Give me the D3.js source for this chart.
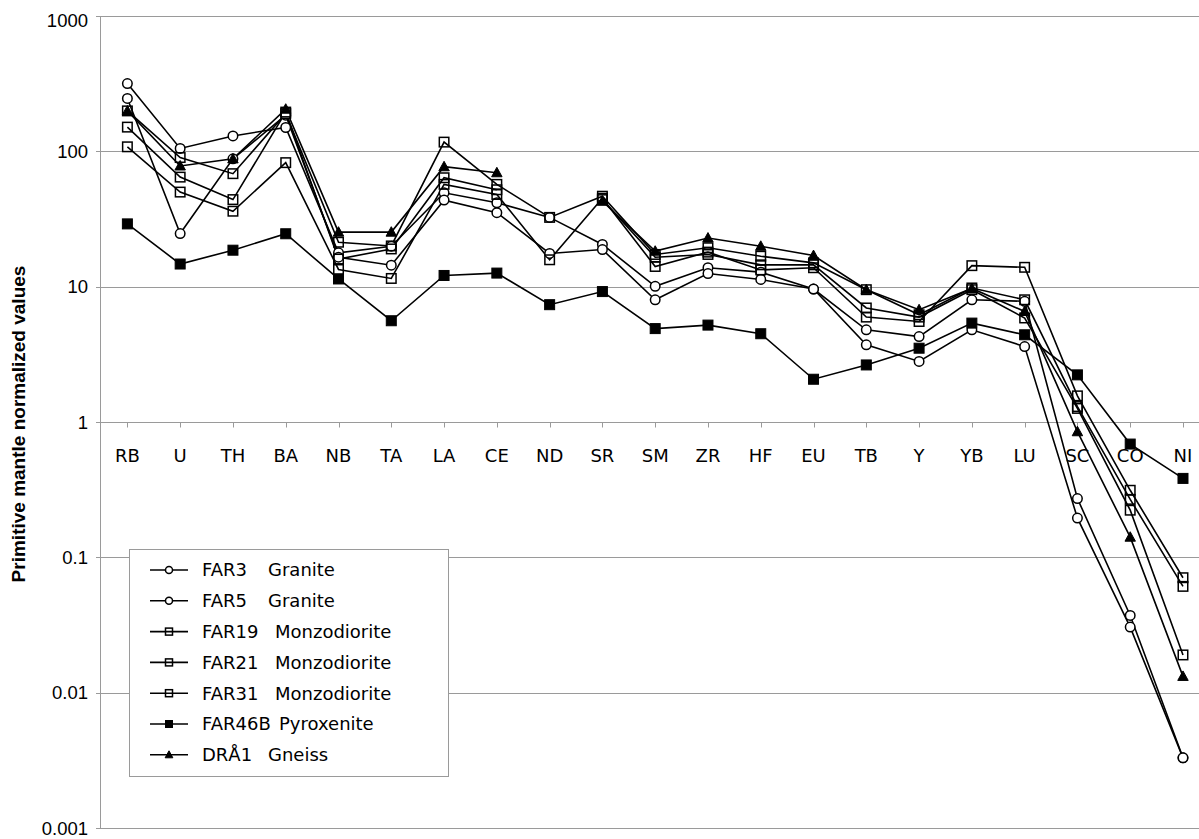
<!DOCTYPE html>
<html>
<head>
<meta charset="utf-8">
<script src="https://cdn.jsdelivr.net/npm/d3@7"></script>
<style>
  html, body { margin: 0; padding: 0; background: #fff; }
  svg { display: block; }
</style>
</head>
<body>
<svg id="chart" width="1199" height="839"></svg>
<script>
// ---------- data ----------
const categories = ["RB","U","TH","BA","NB","TA","LA","CE","ND","SR","SM","ZR","HF","EU","TB","Y","YB","LU","SC","CO","NI"];

const far3   = [317,105,130,150,17.8,19.9,49.4,41.7,32.5,20.5,10.05,13.8,12.8,9.6,4.8,4.28,8.0,7.8,0.272,0.0372,0.0033];
const far5   = [246,24.7,88,185,16.5,14.4,43.6,35.2,17.6,18.8,8.0,12.5,11.3,9.6,3.72,2.8,4.8,3.61,0.195,0.0305,0.0033];
const far19  = [199,90,68.4,190,21.3,20.0,117,57,32.5,46.6,17.3,19.4,16.8,15.0,9.5,6.2,9.78,8.0,1.30,0.268,0.061];
const far21  = [151,64.5,44,195,16.0,19.0,63.8,52,null,44,16.5,17.3,14.5,14.5,6.96,5.96,9.5,5.87,1.26,0.223,0.019];
const far31  = [108,50,36.1,82.5,13.4,11.5,57,48,15.8,45,14.1,18.0,13.3,13.8,5.96,5.53,14.3,13.9,1.56,0.313,0.0707];
const far46b = [29.1,14.7,18.6,24.6,11.4,5.6,12.1,12.6,7.36,9.2,4.9,5.2,4.49,2.07,2.64,3.51,5.38,4.41,2.23,0.687,0.383];
const dra1   = [199,78,88,205,25.3,25.3,77,69.5,null,42.8,18.3,22.9,19.9,17.0,9.5,6.76,9.7,6.56,0.848,0.141,0.0132];

const seriesCodes = ["FAR3","FAR5","FAR19","FAR21","FAR31","FAR46B","DRÅ1"];
const seriesRocks = ["Granite","Granite","Monzodiorite","Monzodiorite","Monzodiorite","Pyroxenite","Gneiss"];
const seriesMarkers = ["circle","circle","square","square","square","filledSquare","triangle"];
const seriesValues = [far3, far5, far19, far21, far31, far46b, dra1];

const yTicks = [1000,100,10,1,0.1,0.01,0.001];
const yTickLabels = ["1000","100","10","1","0.1","0.01","0.001"];
const yTitle = "Primitive mantle normalized values";

// ---------- layout ----------
const svg = d3.select("#chart");
const W = 1199;
const left = 101, step = 52.78;
const x = d3.scaleBand().domain(categories).range([left, left + categories.length * step]);
const cx = c => x(c) + x.bandwidth() / 2;
const y = d3.scaleLog().domain([0.001, 1000]).range([828, 16]);
const gridColor = "#9a9a9a";

// gridlines
svg.append("g").selectAll("line").data(yTicks).join("line")
  .attr("x1", left - 5).attr("x2", W)
  .attr("y1", d => Math.round(y(d)) + 0.5).attr("y2", d => Math.round(y(d)) + 0.5)
  .attr("stroke", gridColor).attr("stroke-width", 1);

// y axis line
svg.append("line").attr("x1", left - 0.5).attr("x2", left - 0.5)
  .attr("y1", Math.round(y(1000))).attr("y2", Math.round(y(0.001)) + 1)
  .attr("stroke", gridColor);

// y tick labels
svg.append("g").selectAll("text").data(yTicks).join("text")
  .attr("x", 88).attr("y", d => Math.max(y(d), 20))
  .attr("dy", "0.36em")
  .attr("text-anchor", "end")
  .style("font-family", "'Liberation Sans', Arial, sans-serif")
  .style("font-size", "18.5px").attr("fill", "#000")
  .text((d, i) => yTickLabels[i]);

// x axis ticks (on the y=1 line)
const y1 = Math.round(y(1)) + 0.5;
svg.append("g").selectAll("line").data(categories).join("line")
  .attr("x1", d => Math.round(cx(d)) + 0.5).attr("x2", d => Math.round(cx(d)) + 0.5)
  .attr("y1", y1).attr("y2", y1 + 5)
  .attr("stroke", gridColor);

// category labels
svg.append("g").selectAll("text").data(categories).join("text")
  .attr("x", d => cx(d)).attr("y", 462)
  .attr("text-anchor", "middle")
  .style("font-family", "'DejaVu Sans', sans-serif")
  .style("font-size", "18px").attr("fill", "#000")
  .text(d => d);

// y title
svg.append("text")
  .attr("transform", "translate(25,424) rotate(-90)")
  .attr("text-anchor", "middle")
  .style("font-family", "'Liberation Sans', Arial, sans-serif")
  .style("font-size", "19px").style("font-weight", "bold")
  .text(yTitle);

// ---------- series ----------
const line = d3.line()
  .defined(d => d.v != null)
  .x(d => cx(d.c)).y(d => y(d.v));

const seriesData = seriesValues.map((vals, i) => ({
  name: seriesCodes[i], marker: seriesMarkers[i],
  pts: categories.map((c, j) => ({ c, v: vals[j] }))
}));

function drawMarker(g, type, px, py, s) {
  if (type === "circle") {
    g.append("circle").attr("cx", px).attr("cy", py).attr("r", s * 0.5)
      .attr("fill", "#fff").attr("stroke", "#000").attr("stroke-width", 1.5);
  } else if (type === "square") {
    g.append("rect").attr("x", px - s / 2).attr("y", py - s / 2).attr("width", s).attr("height", s)
      .attr("fill", "none").attr("stroke", "#000").attr("stroke-width", 1.5);
  } else if (type === "filledSquare") {
    g.append("rect").attr("x", px - s / 2).attr("y", py - s / 2).attr("width", s).attr("height", s)
      .attr("fill", "#000").attr("stroke", "#000").attr("stroke-width", 1);
  } else {
    const h = s * 0.95;
    g.append("path")
      .attr("d", `M${px},${py - h * 0.6}L${px + s * 0.55},${py + h * 0.45}L${px - s * 0.55},${py + h * 0.45}Z`)
      .attr("fill", "#000").attr("stroke", "#000").attr("stroke-width", 1);
  }
}

const gLines = svg.append("g");
seriesData.forEach(s => {
  gLines.append("path").attr("d", line(s.pts))
    .attr("fill", "none").attr("stroke", "#000").attr("stroke-width", 1.6);
});
const gMarks = svg.append("g");
seriesData.forEach(s => {
  s.pts.filter(p => p.v != null).forEach(p => {
    drawMarker(gMarks, s.marker, cx(p.c), y(p.v), s.marker === "filledSquare" ? 10 : 9.5);
  });
});

// ---------- legend ----------
const lg = svg.append("g");
lg.append("rect").attr("x", 129.5).attr("y", 549.5).attr("width", 319).attr("height", 227)
  .attr("fill", "#fff").attr("stroke", gridColor);
seriesData.forEach((s, i) => {
  const ly = 570 + i * 30.8;
  lg.append("line").attr("x1", 150).attr("x2", 188).attr("y1", ly).attr("y2", ly)
    .attr("stroke", "#000").attr("stroke-width", 1.6);
  drawMarker(lg, s.marker, 169, ly, s.marker === "circle" ? 7 : 7);
  lg.append("text").attr("x", 202).attr("y", ly).attr("dy", "0.36em")
    .style("font-family", "'DejaVu Sans', sans-serif").style("font-size", "18px")
    .text(seriesCodes[i]);
  const codeLen = seriesCodes[i].length;
  const nameX = codeLen <= 4 ? 268 : (codeLen === 5 ? 275 : 279);
  lg.append("text").attr("x", nameX).attr("y", ly).attr("dy", "0.36em")
    .style("font-family", "'DejaVu Sans', sans-serif").style("font-size", "18px")
    .text(seriesRocks[i]);
});
</script>
</body>
</html>
